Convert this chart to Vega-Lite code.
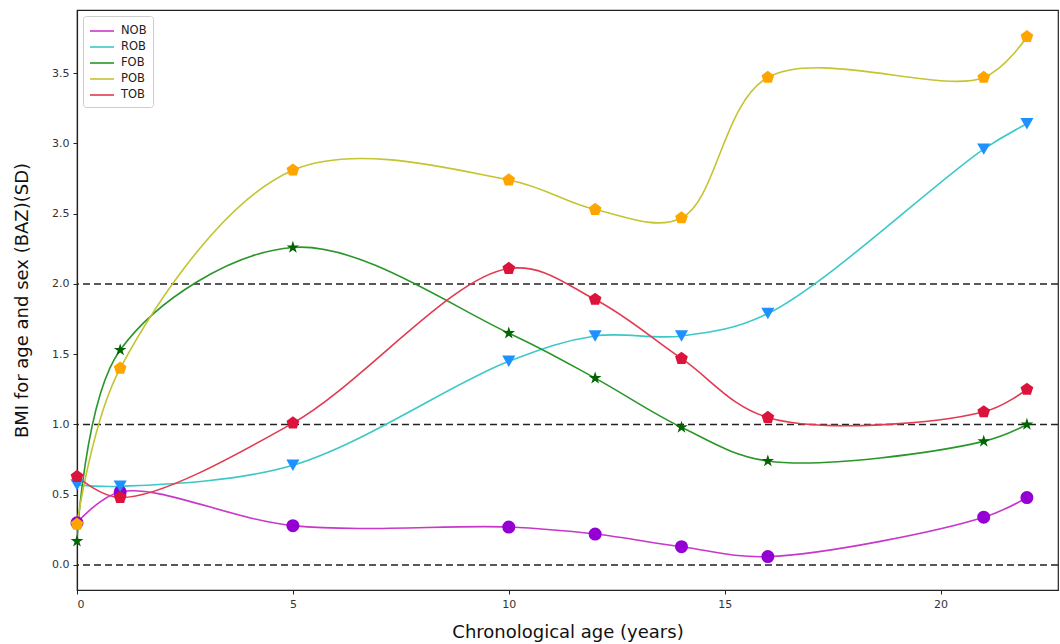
{
  "$schema": "https://vega.github.io/schema/vega-lite/v6.json",
  "width": 981,
  "height": 580,
  "autosize": {"type": "none"},
  "padding": {"left": 77, "top": 10, "right": 2, "bottom": 54},
  "background": "white",
  "config": {
    "font": "DejaVu Sans",
    "view": {"stroke": "#222", "strokeWidth": 1.2},
    "axis": {
      "grid": false,
      "domainColor": "#222",
      "domainWidth": 1.2,
      "tickColor": "#222",
      "tickSize": 4,
      "labelFont": "DejaVu Sans",
      "labelFontSize": 11,
      "labelColor": "#333",
      "titleFont": "DejaVu Sans",
      "titleFontSize": 18,
      "titleFontWeight": "normal",
      "titleColor": "#111"
    },
    "legend": {
      "labelFont": "DejaVu Sans",
      "labelFontSize": 11.5,
      "labelColor": "#222"
    }
  },
  "data": {
    "values": [
      {"age": 0, "bmi": 0.30, "group": "NOB"},
      {"age": 1, "bmi": 0.52, "group": "NOB"},
      {"age": 5, "bmi": 0.28, "group": "NOB"},
      {"age": 10, "bmi": 0.27, "group": "NOB"},
      {"age": 12, "bmi": 0.22, "group": "NOB"},
      {"age": 14, "bmi": 0.13, "group": "NOB"},
      {"age": 16, "bmi": 0.06, "group": "NOB"},
      {"age": 21, "bmi": 0.34, "group": "NOB"},
      {"age": 22, "bmi": 0.48, "group": "NOB"},
      {"age": 0, "bmi": 0.57, "group": "ROB"},
      {"age": 1, "bmi": 0.56, "group": "ROB"},
      {"age": 5, "bmi": 0.71, "group": "ROB"},
      {"age": 10, "bmi": 1.45, "group": "ROB"},
      {"age": 12, "bmi": 1.63, "group": "ROB"},
      {"age": 14, "bmi": 1.63, "group": "ROB"},
      {"age": 16, "bmi": 1.79, "group": "ROB"},
      {"age": 21, "bmi": 2.96, "group": "ROB"},
      {"age": 22, "bmi": 3.14, "group": "ROB"},
      {"age": 0, "bmi": 0.17, "group": "FOB"},
      {"age": 1, "bmi": 1.53, "group": "FOB"},
      {"age": 5, "bmi": 2.26, "group": "FOB"},
      {"age": 10, "bmi": 1.65, "group": "FOB"},
      {"age": 12, "bmi": 1.33, "group": "FOB"},
      {"age": 14, "bmi": 0.98, "group": "FOB"},
      {"age": 16, "bmi": 0.74, "group": "FOB"},
      {"age": 21, "bmi": 0.88, "group": "FOB"},
      {"age": 22, "bmi": 1.00, "group": "FOB"},
      {"age": 0, "bmi": 0.29, "group": "POB"},
      {"age": 1, "bmi": 1.40, "group": "POB"},
      {"age": 5, "bmi": 2.81, "group": "POB"},
      {"age": 10, "bmi": 2.74, "group": "POB"},
      {"age": 12, "bmi": 2.53, "group": "POB"},
      {"age": 14, "bmi": 2.47, "group": "POB"},
      {"age": 16, "bmi": 3.47, "group": "POB"},
      {"age": 21, "bmi": 3.47, "group": "POB"},
      {"age": 22, "bmi": 3.76, "group": "POB"},
      {"age": 0, "bmi": 0.63, "group": "TOB"},
      {"age": 1, "bmi": 0.48, "group": "TOB"},
      {"age": 5, "bmi": 1.01, "group": "TOB"},
      {"age": 10, "bmi": 2.11, "group": "TOB"},
      {"age": 12, "bmi": 1.89, "group": "TOB"},
      {"age": 14, "bmi": 1.47, "group": "TOB"},
      {"age": 16, "bmi": 1.05, "group": "TOB"},
      {"age": 21, "bmi": 1.09, "group": "TOB"},
      {"age": 22, "bmi": 1.25, "group": "TOB"}
    ]
  },
  "resolve": {"legend": {"color": "independent", "fill": "independent", "shape": "independent", "size": "independent"}},
  "layer": [
    {
      "data": {"values": [{"ref": 0}, {"ref": 1}, {"ref": 2}]},
      "mark": {"type": "rule", "color": "#222", "strokeWidth": 1.3, "strokeDash": [7, 4]},
      "encoding": {
        "y": {"field": "ref", "type": "quantitative", "scale": {"domain": [-0.178, 3.95], "nice": false, "zero": false}}
      }
    },
    {
      "mark": {"type": "line", "interpolate": "catmull-rom", "strokeWidth": 1.6, "clip": true},
      "encoding": {
        "x": {
          "field": "age", "type": "quantitative",
          "scale": {"domain": [0, 22.72], "nice": false, "zero": false},
          "axis": {"values": [0, 5, 10, 15, 20], "format": "d", "title": "Chronological age (years)", "titlePadding": 14, "labelPadding": 4}
        },
        "y": {
          "field": "bmi", "type": "quantitative",
          "scale": {"domain": [-0.178, 3.95], "nice": false, "zero": false},
          "axis": {"values": [0, 0.5, 1, 1.5, 2, 2.5, 3, 3.5], "format": ".1f", "title": "BMI for age and sex (BAZ)(SD)", "titlePadding": 20, "labelPadding": 4}
        },
        "color": {
          "field": "group", "type": "nominal",
          "scale": {"domain": ["NOB", "ROB", "FOB", "POB", "TOB"], "range": ["#c837c8", "#3cc8c8", "#2a962a", "#c4c430", "#e23a50"]},
          "legend": {
            "title": null,
            "orient": "top-left",
            "offset": 6,
            "symbolType": "M-1.5,0H1.5",
            "symbolSize": 256,
            "symbolStrokeWidth": 1.6,
            "symbolOffset": 4,
            "labelOffset": 10,
            "rowPadding": 1,
            "padding": 6,
            "strokeColor": "#ccc",
            "fillColor": "white",
            "cornerRadius": 3
          }
        }
      }
    },
    {
      "mark": {"type": "point", "filled": true, "opacity": 1, "strokeWidth": 0},
      "encoding": {
        "x": {"field": "age", "type": "quantitative"},
        "y": {"field": "bmi", "type": "quantitative"},
        "fill": {
          "field": "group", "type": "nominal",
          "scale": {"domain": ["NOB", "ROB", "FOB", "POB", "TOB"], "range": ["#9400d3", "#1e90ff", "#006400", "#ffa500", "#dc143c"]},
          "legend": null
        },
        "size": {
          "field": "group", "type": "ordinal",
          "scale": {"domain": ["NOB", "ROB", "FOB", "POB", "TOB"], "range": [170, 180, 280, 190, 190]},
          "legend": null
        },
        "shape": {
          "field": "group", "type": "nominal",
          "scale": {
            "domain": ["NOB", "ROB", "FOB", "POB", "TOB"],
            "range": [
              "circle",
              "triangle-down",
              "M0,-1L0.225,-0.309L0.951,-0.309L0.363,0.118L0.588,0.809L0,0.382L-0.588,0.809L-0.363,0.118L-0.951,-0.309L-0.225,-0.309Z",
              "M0,-1L0.951,-0.309L0.588,0.809L-0.588,0.809L-0.951,-0.309Z",
              "M0,-1L0.951,-0.309L0.588,0.809L-0.588,0.809L-0.951,-0.309Z"
            ]
          },
          "legend": null
        }
      }
    }
  ]
}
